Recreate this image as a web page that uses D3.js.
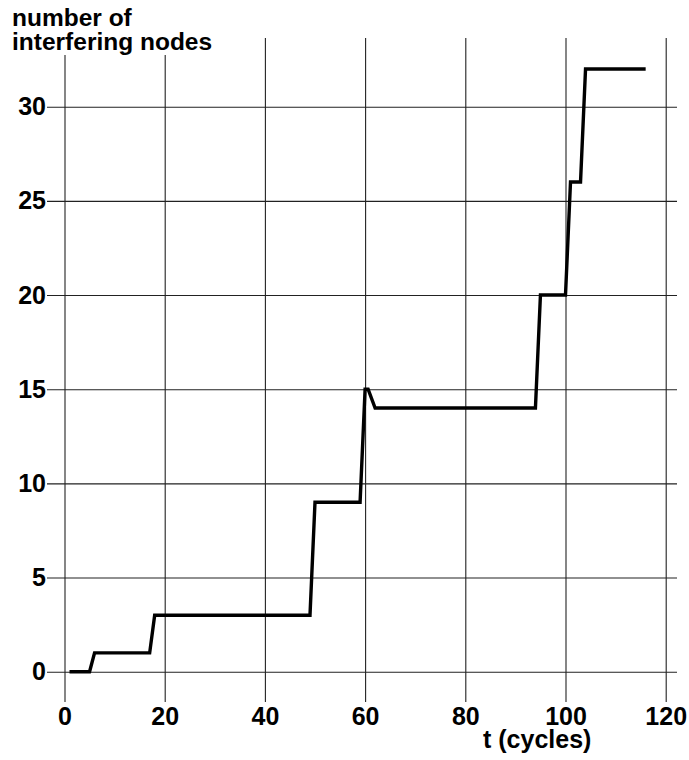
<!DOCTYPE html>
<html>
<head>
<meta charset="utf-8">
<script src="https://cdn.jsdelivr.net/npm/d3@7"></script>
<style>
  html, body { margin: 0; padding: 0; background: #fff; }
  svg { display: block; font-family: "Liberation Sans", Arial, Helvetica, sans-serif; }
</style>
</head>
<body>
<svg id="chart" width="689" height="760"></svg>
<script>
// Interfering-node count over time (cycles)
const tCycles = [1, 5, 6, 17, 18, 49, 50, 59, 60, 60.6, 62, 94, 95, 100, 101, 103, 104, 116];
const nodes   = [0, 0, 1, 1, 3, 3, 9, 9, 15, 15, 14, 14, 20, 20, 26, 26, 32, 32];

const xTicks = [0, 20, 40, 60, 80, 100, 120];
const yTicks = [0, 5, 10, 15, 20, 25, 30];

const titleLines = ["number of", "interfering nodes"];
const xTitle = "t (cycles)";

const svg = d3.select("#chart");

const x = d3.scaleLinear().domain([0, 120]).range([64.5, 665.7]);
const y = d3.scaleLinear().domain([0, 30]).range([671.7, 106.7]);

const gridLeft = 47, gridRight = 677;
const gridTop = 38, gridBottom = 702;
const fontSize = 25;

// horizontal grid lines with y tick labels
const yAxis = d3.axisLeft(y)
  .tickValues(yTicks)
  .tickSize(-(gridRight - gridLeft))
  .tickPadding(1)
  .tickFormat(d3.format("d"));

const gy = svg.append("g")
  .attr("transform", `translate(${gridLeft},0)`)
  .call(yAxis);
gy.select(".domain").remove();
gy.selectAll(".tick line").attr("stroke", "#222").attr("stroke-width", 1.1);
gy.selectAll(".tick text")
  .attr("fill", "#000")
  .style("font-size", fontSize + "px")
  .style("font-weight", "bold")
  .style("font-family", "'Liberation Sans', Arial, sans-serif");

// vertical grid lines with x tick labels
const xAxis = d3.axisBottom(x)
  .tickValues(xTicks)
  .tickSize(-(gridBottom - gridTop))
  .tickPadding(5)
  .tickFormat(d3.format("d"));

const gx = svg.append("g")
  .attr("transform", `translate(0,${gridBottom})`)
  .call(xAxis);
gx.select(".domain").remove();
gx.selectAll(".tick line")
  .attr("stroke", "#222")
  .attr("stroke-width", 1.1)
  .attr("y1", 0)
  .attr("y2", -(gridBottom - gridTop));
gx.selectAll(".tick text")
  .attr("fill", "#000")
  .attr("y", 23)
  .attr("dy", 0)
  .style("font-size", fontSize + "px")
  .style("font-weight", "bold")
  .style("font-family", "'Liberation Sans', Arial, sans-serif");

// the step curve
const line = d3.line()
  .x((d, i) => x(tCycles[i]))
  .y((d, i) => y(nodes[i]));

svg.append("path")
  .datum(nodes)
  .attr("d", line)
  .attr("fill", "none")
  .attr("stroke", "#000")
  .attr("stroke-width", 3.4)
  .attr("stroke-linejoin", "miter");

// y-axis title on a white backing so grid lines stop beneath it
const titleG = svg.append("g");
const titleBg = titleG.append("rect").attr("fill", "#fff");
const titleText = titleG.append("text")
  .attr("x", 12)
  .attr("y", 26)
  .style("font-size", "24.5px")
  .style("font-weight", "bold")
  .attr("fill", "#000");
titleText.selectAll("tspan")
  .data(titleLines)
  .join("tspan")
  .attr("x", 12)
  .attr("dy", (d, i) => i === 0 ? 0 : 24)
  .text(d => d);
const bb = titleText.node().getBBox();
titleBg
  .attr("x", bb.x - 2)
  .attr("y", bb.y - 2)
  .attr("width", bb.width + 4)
  .attr("height", bb.height + 2);

// x-axis title
svg.append("text")
  .attr("x", 483)
  .attr("y", 748)
  .style("font-size", fontSize + "px")
  .style("font-weight", "bold")
  .attr("fill", "#000")
  .text(xTitle);
</script>
</body>
</html>
